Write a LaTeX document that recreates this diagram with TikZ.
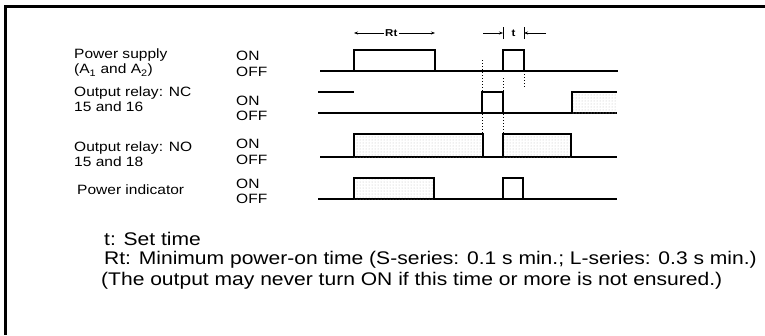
\documentclass[tikz,border=0pt]{standalone}
\usepackage{fontspec}
\setmainfont[FakeStretch=1.15]{Liberation Sans}
\usetikzlibrary{arrows.meta,patterns,calc}

\begin{document}
\begin{tikzpicture}[x=1pt, y=-1pt,
      lbl/.style={anchor=west, align=left, inner sep=0pt,
                  font=\fontsize{13.5}{15}\selectfont},
      state/.style={anchor=west, align=left, inner sep=0pt,
                  font=\fontsize{13.5}{15.5}\selectfont},
      note/.style={anchor=west, inner sep=0pt, font=\fontsize{18.3}{20}\selectfont},
      dim/.style={font=\fontsize{10}{10}\selectfont\bfseries, fill=white, inner sep=1.5pt},
      wave/.style={line width=1.5pt},
      tex/.style={pattern=dots, pattern color=gray!55},
      guide/.style={dotted, line width=1pt},
      >={Stealth[length=4pt]}]
    \useasboundingbox (0,0) rectangle (765,335);
    % frame, top and left only
    \draw[line width=3pt] (765,6) -- (5,6) -- (5,335);
    % signal names and ON/OFF levels
    \node[lbl] (ps)  at (74,63)  {Power supply\\(A\textsubscript{1} and A\textsubscript{2})};
    \node[lbl] (nc)  at (74,99)  {Output relay: NC\\15 and 16};
    \node[lbl] (no)  at (74,154) {Output relay: NO\\15 and 18};
    \node[lbl] (ind) at (77,190) {Power indicator};
    \node[state] (ps s)  at (236,64)    {ON\\OFF};
    \node[state] (nc s)  at (236,108.5) {ON\\OFF};
    \node[state] (no s)  at (236,152)   {ON\\OFF};
    \node[state] (ind s) at (236,191.5) {ON\\OFF};
    % Rt and t
    \coordinate (rt a) at (354,33);
    \coordinate (rt b) at (435,33);
    \draw[<->, thick] (rt a) -- node[dim, pos=0.46] (rt) {Rt} (rt b);
    \coordinate (t a) at (503,33);
    \coordinate (t b) at (524,33);
    \draw[thick] ([yshift=-6pt]t a) -- ([yshift=6pt]t a);
    \draw[thick] ([yshift=-6pt]t b) -- ([yshift=6pt]t b);
    \draw[->, thick] ([xshift=-20pt]t a) -- (t a);
    \draw[->, thick] ([xshift=22pt]t b) -- (t b);
    \node[dim] (t) at ($(t a)!0.5!(t b)$) {t};
    % power supply
    \draw[wave] (320,71) -- (618,71);
    \draw[wave] (354,71) |- (435,50) -- (435,71);
    \draw[wave] (503,71) |- (524,50) -- (524,71);
    % output relay NC
    \draw[wave] (318,113) -- (617,113);
    \draw[wave] (318,92) -- (354,92);
    \draw[wave] (482,113) |- (503,92) -- (503,113);
    \fill[tex] (572,92) rectangle (617,113);
    \draw[wave] (572,113) |- (617,92);
    % output relay NO
    \draw[wave] (320,157) -- (617,157);
    \fill[tex] (354,134) rectangle (483,157);
    \draw[wave] (354,157) |- (483,134) -- (483,157);
    \fill[tex] (503,134) rectangle (571,157);
    \draw[wave] (503,157) |- (571,134) -- (571,157);
    % power indicator
    \draw[wave] (318,199) -- (617,199);
    \fill[tex] (354,178) rectangle (434,199);
    \draw[wave] (354,199) |- (434,178) -- (434,199);
    \draw[wave] (503,199) |- (523,178) -- (523,199);
    % guides
    \draw[guide] (482,60) -- (482,134);
    \draw[guide] (503,78) -- (503,134);
    \draw[guide] (524,71) -- (524,88);
    % notes
    \node[note] (n1) at (104,239) {t: Set time};
    \node[note] (n2) at (104,260) {Rt: Minimum power-on time (S-series: 0.1 s min.; L-series: 0.3 s min.)};
    \node[note] (n3) at (101,281) {(The output may never turn ON if this time or more is not ensured.)};
\end{tikzpicture}
\end{document}
